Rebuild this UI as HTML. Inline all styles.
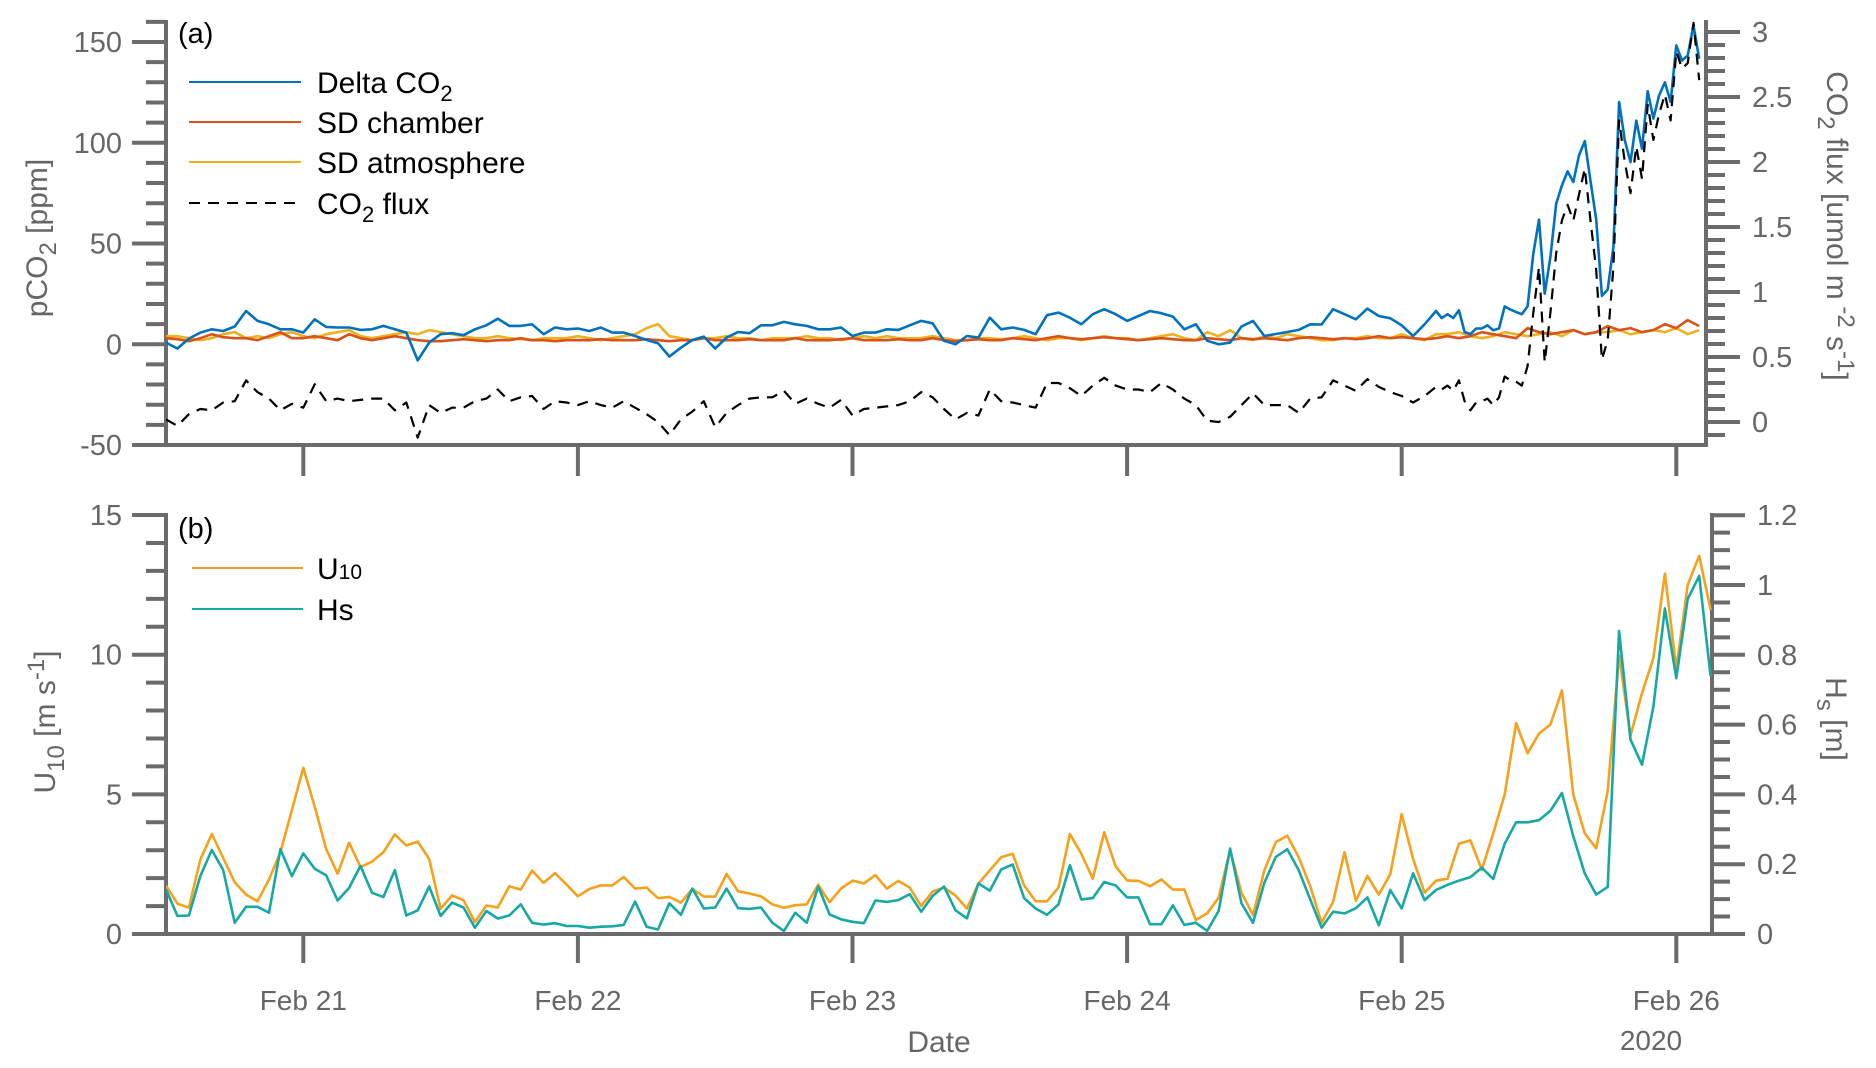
<!DOCTYPE html>
<html><head><meta charset="utf-8"><title>CO2 and wind chart</title>
<style>
html,body{margin:0;padding:0;background:#fff;}
svg{display:block;font-family:"Liberation Sans",Arial,sans-serif;}
</style></head>
<body>
<svg id="chart" width="1876" height="1068" viewBox="0 0 1876 1068" xmlns="http://www.w3.org/2000/svg">
<defs>
<clipPath id="clipTop"><rect x="166" y="14" width="1543" height="433"/></clipPath>
<clipPath id="clipBot"><rect x="166" y="505" width="1549" height="431"/></clipPath>
</defs>
<g id="topPanel"></g>
<g id="botPanel"></g>
</svg>
<script>
// ---------- data (hours since Feb 20 12:00) ----------
const dayTicks = [21,22,23,24,25,26];
const dayLabels = ["Feb 21","Feb 22","Feb 23","Feb 24","Feb 25","Feb 26"];
const topLeftTicks = [-50,0,50,100,150];
const topRightTicks = [0,0.5,1,1.5,2,2.5,3];
const topRightLabels = ["0","0.5","1","1.5","2","2.5","3"];
const botLeftTicks = [0,5,10,15];
const botRightTicks = [0,0.2,0.4,0.6,0.8,1,1.2];
const botRightLabels = ["0","0.2","0.4","0.6","0.8","1","1.2"];

const deltaHourly = [0.8,-2.1,2.8,5.8,7.4,6.6,8.8,16.5,11.6,9.9,7.4,7.4,5.8,12.4,8.6,8.3,8.3,7.1,7.4,9.1,7.4,5.8,-8,0.8,5.0,5.5,4.5,7.4,9.4,12.7,9.1,9.1,9.9,5,8.3,7.4,7.8,6.6,8.3,5.8,5.8,4.1,2.1,0.5,-6.1,-1.7,2.1,3.8,-2.1,3.3,6.1,5.5,9.4,9.4,11.1,9.9,9.1,7.4,7.4,8.3,4.1,5.8,5.8,7.4,7.1,9.4,11.6,10.4,
1.7,0,4.1,3.3,13.2,7.4,8.3,7.1,5,14.4,15.7,13.2,9.9,14.9,17.4,14.9,11.6,14,16.5,15.4,13.7,7.4,9.9,1.7,0,0.8,8.8,11.6,4.1,5.1,6.1,7.1,9.9,9.8,17.4,14.9,12.4,17.7,14,12.9,9.4,4.1,9.9];
const deltaHalfHourly = [16.5,13,14.9,13,16.9,6.1,5,7.8,7.8,9.4,6.9,7.8,18.8,17.2,16,14.9,18.8,45,61.8,25.1,43.3,69.8,78.8,85.8,80.5,93.7,100.8,81,62,24,27.1,48.3,120.2,101.2,90.4,111,97,125.6,112,123.5,130,120.2,148.3,140.8,143.3,158.2,141.6];
const fluxHourly = [0.02,-0.03,0.06,0.1,0.09,0.15,0.16,0.32,0.23,0.18,0.09,0.14,0.11,0.29,0.16,0.18,0.16,0.17,0.18,0.18,0.09,0.15,-0.12,0.13,0.07,0.11,0.11,0.16,0.18,0.25,0.16,0.19,0.2,0.1,0.16,0.15,0.13,0.16,0.13,0.11,0.16,0.11,0.06,0.0,-0.1,0.02,0.08,0.16,-0.04,0.07,0.13,0.18,0.19,0.19,0.24,0.14,0.18,0.14,0.11,0.17,0.05,0.1,0.11,0.12,0.13,0.16,0.23,0.19,
0.1,0.02,0.07,0.05,0.25,0.16,0.15,0.13,0.11,0.3,0.3,0.26,0.2,0.28,0.34,0.28,0.25,0.25,0.23,0.3,0.25,0.18,0.13,0.01,0.0,0.04,0.13,0.22,0.13,0.13,0.13,0.07,0.18,0.19,0.32,0.28,0.24,0.33,0.27,0.23,0.2,0.15,0.2];
const fluxHalfHourly = [0.27,0.25,0.28,0.24,0.32,0.16,0.09,0.15,0.16,0.18,0.13,0.19,0.35,0.32,0.31,0.28,0.43,0.84,1.19,0.46,0.84,1.3,1.55,1.67,1.55,1.75,1.95,1.55,1.17,0.48,0.63,1.19,2.32,2.0,1.76,2.12,1.87,2.44,2.17,2.37,2.52,2.32,2.85,2.72,2.76,3.07,2.63];
const sdChamber = [3,2.5,1.5,3,5,3.5,3,3,2,4,6,3,3,4,3,2,5,3,2,3,4,3,2,1.5,1.5,2,2.5,2,1.5,2,2,3,2,2,1.5,2,2,2,2.5,2,2,2,2.5,2,1.5,2,2,3,2,2,2,2.5,2,2,2,3,2,2,2,2.5,3,2,2,2,2.5,2,2,3,2,1.5,2,2.5,2,2,3,2.5,2,3,4,3,2.5,3,3.5,3,2.5,2,2.5,3,2.5,2,2,3,2.5,2,3,2.5,3,2.5,2,3,3.5,3,2.5,3,2.5,3,4,3,3.5,3,2.5,3,4,3,4,6,5,4,3,8,6,5,6,7,5,6,9,7,8,6,7,10,8,12,9];
const sdAtmosphere = [4,4,3,2,3,5,6,3,4,3,5,6,4,3,5,6,7,4,3,4,5,6,5,7,6,5,4,3,3,4,3,2.5,2,3,3,3,4,3,2,3,4,5,8,10,4,3,2,3,3,4,3,3,2,3,3,3,4,3,3,2,3,4,3,4,3,3,3,4,3,2,2,3,3,2.5,3,4,3,2,3,3,2,3,4,3,3,2,3,4,5,3,2,6,4,7,3,2,4,3,5,4,3,2,2,3,3,4,3,3,5,3,2,5,5,6,4,3,4,6,5,4,5,6,4,7,5,6,6,7,5,6,7,6,8,5,7];
const u10 = [1.73,1.09,0.94,2.66,3.58,2.72,1.85,1.41,1.17,1.95,2.92,4.44,5.95,4.56,3.04,2.16,3.27,2.4,2.59,2.93,3.57,3.17,3.31,2.68,0.9,1.38,1.21,0.43,1.02,0.95,1.71,1.59,2.27,1.83,2.18,1.77,1.35,1.61,1.74,1.74,2.04,1.63,1.66,1.28,1.33,1.12,1.61,1.34,1.34,2.15,1.53,1.45,1.35,1.06,0.94,1.03,1.06,1.76,1.14,1.63,1.91,1.81,2.11,
1.63,1.9,1.66,1.0,1.52,1.66,1.38,0.91,1.8,2.28,2.75,2.87,1.74,1.17,1.17,1.66,3.58,2.87,1.98,3.64,2.42,1.92,1.9,1.71,1.95,1.59,1.59,0.5,0.74,1.3,3.01,1.48,0.68,2.28,3.29,3.52,2.75,1.71,0.4,1.15,2.93,1.19,2.08,1.41,2.14,4.29,2.69,1.48,1.91,1.98,3.23,3.35,
2.3,3.6,5.0,7.55,6.47,7.18,7.5,8.72,4.99,3.6,3.07,5.12,9.97,7.1,8.63,9.88,12.9,9.5,12.5,13.54,11.6];
const hs = [0.128,0.052,0.053,0.166,0.241,0.183,0.032,0.078,0.078,0.061,0.243,0.166,0.231,0.187,0.168,0.096,0.132,0.195,0.118,0.106,0.183,0.053,0.068,0.136,0.052,0.09,0.076,0.018,0.066,0.044,0.053,0.085,0.032,0.027,0.031,0.023,0.023,0.018,0.021,0.022,0.026,0.093,0.021,0.013,0.088,0.055,0.13,0.073,0.076,0.13,0.074,0.072,0.076,0.032,0.009,0.061,0.032,0.136,0.056,0.042,0.035,0.031,0.096,
0.092,0.097,0.114,0.064,0.109,0.136,0.068,0.045,0.145,0.124,0.185,0.199,0.103,0.073,0.055,0.085,0.197,0.099,0.103,0.149,0.139,0.105,0.105,0.028,0.028,0.082,0.026,0.032,0.009,0.066,0.245,0.088,0.032,0.147,0.221,0.243,0.183,0.099,0.018,0.064,0.059,0.074,0.105,0.025,0.126,0.073,0.174,0.097,0.126,0.141,0.153,0.163,
0.19,0.158,0.259,0.32,0.32,0.326,0.353,0.404,0.28,0.173,0.113,0.135,0.868,0.557,0.485,0.652,0.933,0.733,0.96,1.026,0.739];

// ---------- axis functions ----------
const X0 = 166, PXD = 274.6;
const XR_TOP = 1706, XR_BOT = 1712;
function xDay(d){ return X0 + (d - 20.5) * PXD; }
function xHour(h){ return X0 + h / 24 * PXD; }
function yPpm(v){ return 445 - (v + 50) * 2.015; }
function yFlux(f){ return 422 - f * 130; }
function yU(u){ return 934 - u * 27.93; }
function yHs(m){ return 934 - m * 349; }

const NS = "http://www.w3.org/2000/svg";
const topG = document.getElementById('topPanel');
const botG = document.getElementById('botPanel');
const AX = "#6b6b6b", TXT = "#666666";

function mk(tag, parent, attrs){
  const el = document.createElementNS(NS, tag);
  for (const k in attrs) el.setAttribute(k, attrs[k]);
  parent.appendChild(el);
  return el;
}
function line(parent, x1,y1,x2,y2,w){
  return mk('line', parent, {x1:x1,y1:y1,x2:x2,y2:y2,stroke:AX,'stroke-width':w});
}
function label(parent, x, y, str, anchor, size, fill){
  const t = mk('text', parent, {x:x,y:y,'text-anchor':anchor,'font-size':size,fill:fill});
  t.textContent = str;
  return t;
}
function poly(parent, pts, color, clip, dash){
  const p = mk('polyline', parent, {points:pts.map(q=>q[0].toFixed(1)+','+q[1].toFixed(1)).join(' '),fill:'none',stroke:color,'stroke-width':2.6,'stroke-linejoin':'round','clip-path':clip});
  if (dash) p.setAttribute('stroke-dasharray', dash);
  return p;
}

// ---------- top panel axes ----------
const gTopAx = mk('g', topG, {});


line(gTopAx, 166, 20, 166, 447, 4);
line(gTopAx, XR_TOP, 20, XR_TOP, 447, 4);
line(gTopAx, 164, 445, XR_TOP+2, 445, 4);
for (let v = -50; v <= 160; v += 10){
  const maj = topLeftTicks.indexOf(v) >= 0;
  line(gTopAx, maj ? 132 : 146, yPpm(v), 166, yPpm(v), 4);
}
topLeftTicks.forEach(v=>{
  const t = label(gTopAx, 122, yPpm(v)+10, String(v), 'end', 29, TXT);
  
  
});
for (let k = -1; k <= 30; k++){
  const f = k/10;
  const maj = (k % 5 === 0);
  line(gTopAx, XR_TOP, yFlux(f), XR_TOP + (maj ? 34 : 19), yFlux(f), 4);
}
topRightTicks.forEach((f,i)=>{
  const t = label(gTopAx, XR_TOP+46, yFlux(f)+10, topRightLabels[i], 'start', 29, TXT);
  
  
});
dayTicks.forEach(d=>{ line(gTopAx, xDay(d), 445, xDay(d), 476, 4); });

const ylt = mk('text', gTopAx, {transform:'translate(47,238) rotate(-90)','text-anchor':'middle','font-size':30,fill:TXT});


ylt.innerHTML = 'pCO<tspan dy="9" font-size="24">2</tspan><tspan dy="-9"> [ppm]</tspan>';
const yrt = mk('text', gTopAx, {transform:'translate(1827,226) rotate(90)','text-anchor':'middle','font-size':30,fill:TXT});


yrt.innerHTML = 'CO<tspan dy="9" font-size="24">2</tspan><tspan dy="-9"> flux [umol m</tspan><tspan dy="-11" font-size="24"> -2</tspan><tspan dy="11"> s</tspan><tspan dy="-11" font-size="24">-1</tspan><tspan dy="11">]</tspan>';
const pa = label(gTopAx, 178, 43, '(a)', 'start', 29, '#000');



// ---------- top series ----------
function hourlyPts(arr, yf){ return arr.map((v,i)=>[xHour(i), yf(v)]); }
function halfPts(arr, yf){ return arr.map((v,j)=>[xHour(111 + 0.5*j), yf(v)]); }

const sAtm = poly(topG, hourlyPts(sdAtmosphere, yPpm), '#EDB120', 'url(#clipTop)');


const sCh = poly(topG, hourlyPts(sdChamber, yPpm), '#D95319', 'url(#clipTop)');


const sDelta = poly(topG, hourlyPts(deltaHourly, yPpm).concat(halfPts(deltaHalfHourly, yPpm)), '#0072BD', 'url(#clipTop)');


const sFlux = poly(topG, hourlyPts(fluxHourly, yFlux).concat(halfPts(fluxHalfHourly, yFlux)), '#000000', 'url(#clipTop)', '11,8');


sFlux.setAttribute('stroke-width', '2.2');

// ---------- top legend ----------
const legA = mk('g', topG, {});


const legItems = [
  ['#0072BD', null, 'Delta CO<tspan dy="8" font-size="22">2</tspan>', 'legend-entry-delta-co2'],
  ['#D95319', null, 'SD chamber', 'legend-entry-sd-chamber'],
  ['#EDB120', null, 'SD atmosphere', 'legend-entry-sd-atmosphere'],
  ['#000000', '11,8', 'CO<tspan dy="8" font-size="22">2</tspan><tspan dy="-8"> flux</tspan>', 'legend-entry-co2-flux']
];
const legY = [82, 122, 162, 203];
legItems.forEach((it,i)=>{
  const g = mk('g', legA, {});
  
  
  const l = mk('line', g, {x1:189,y1:legY[i],x2:301,y2:legY[i],stroke:it[0],'stroke-width':2});
  if (it[1]) l.setAttribute('stroke-dasharray', it[1]);
  const t = mk('text', g, {x:317,y:legY[i]+11,'font-size':30,fill:'#000'});
  t.innerHTML = it[2];
});

// ---------- bottom panel axes ----------
const gBotAx = mk('g', botG, {});


line(gBotAx, 166, 513, 166, 936, 4);
line(gBotAx, XR_BOT, 513, XR_BOT, 936, 4);
line(gBotAx, 164, 934, XR_BOT+2, 934, 4);
for (let v = 0; v <= 15; v++){
  const maj = (v % 5 === 0);
  line(gBotAx, maj ? 132 : 146, yU(v), 166, yU(v), 4);
}
botLeftTicks.forEach(v=>{
  const t = label(gBotAx, 122, yU(v)+10, String(v), 'end', 29, TXT);
  
  
});
for (let k = 0; k <= 24; k++){
  const m = k*0.05;
  const maj = (k % 4 === 0);
  line(gBotAx, XR_BOT, yHs(m), XR_BOT + (maj ? 33 : 18), yHs(m), 4);
}
botRightTicks.forEach((m,i)=>{
  const t = label(gBotAx, XR_BOT+45, yHs(m)+10, botRightLabels[i], 'start', 29, TXT);
  
  
});
dayTicks.forEach((d,i)=>{
  line(gBotAx, xDay(d), 934, xDay(d), 963, 4);
  const t = label(gBotAx, xDay(d), 1010, dayLabels[i], 'middle', 28, TXT);
  
  
});
const xt = label(gBotAx, 939, 1052, 'Date', 'middle', 30, TXT);


const yr = label(gBotAx, 1651, 1050, '2020', 'middle', 28, TXT);


const ylb = mk('text', gBotAx, {transform:'translate(55,722) rotate(-90)','text-anchor':'middle','font-size':30,fill:TXT});


ylb.innerHTML = 'U<tspan dy="9" font-size="24">10</tspan><tspan dy="-9"> [m s</tspan><tspan dy="-11" font-size="24">-1</tspan><tspan dy="11">]</tspan>';
const yrb = mk('text', gBotAx, {transform:'translate(1826,719) rotate(90)','text-anchor':'middle','font-size':30,fill:TXT});


yrb.innerHTML = 'H<tspan dy="9" font-size="24">s</tspan><tspan dy="-9"> [m]</tspan>';
const pb = label(gBotAx, 178, 538, '(b)', 'start', 29, '#000');



// ---------- bottom series ----------
const sU = poly(botG, u10.map((v,i)=>[xHour(i), yU(v)]), '#F5A11C', 'url(#clipBot)');


const sHs = poly(botG, hs.map((v,i)=>[xHour(i), yHs(v)]), '#17A8A6', 'url(#clipBot)');



// ---------- bottom legend ----------
const legB = mk('g', botG, {});


const legBItems = [['#F5A11C','U<tspan font-size="21">10</tspan>','legend-entry-u10'],['#17A8A6','Hs','legend-entry-hs']];
const legBY = [568, 609];
legBItems.forEach((it,i)=>{
  const g = mk('g', legB, {});
  
  
  mk('line', g, {x1:192,y1:legBY[i],x2:303,y2:legBY[i],stroke:it[0],'stroke-width':2});
  const t = mk('text', g, {x:317,y:legBY[i]+11,'font-size':30,fill:'#000'});
  t.innerHTML = it[1];
});
</script>
</body></html>
